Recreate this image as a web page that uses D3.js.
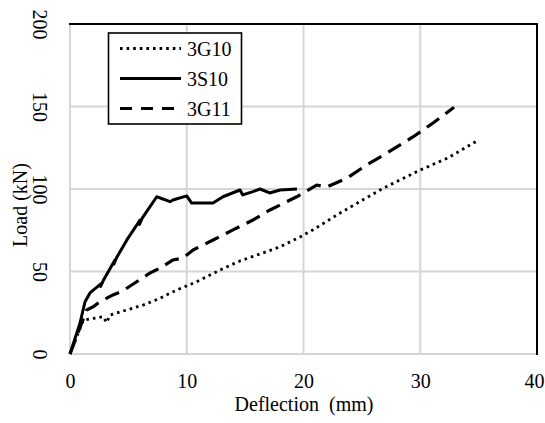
<!DOCTYPE html>
<html>
<head>
<meta charset="utf-8">
<script src="https://cdn.jsdelivr.net/npm/d3@7"></script>
<style>
  html, body { margin: 0; padding: 0; background: #fff; }
  svg { display: block; }
  text { font-family: "Liberation Serif", "Times New Roman", serif; fill: #000; }
</style>
</head>
<body>
<div id="chart"></div>
<script>
// ---- data (deflection in mm, load in kN) ----
const seriesNames = ["3G10", "3S10", "3G11"];
const xTicks = [0, 10, 20, 30, 40];
const yTicks = [0, 50, 100, 150, 200];

const g10Defl = [0, 1.14, 2.0, 2.85, 3.14, 3.43, 4.86, 6.28, 7.71, 9.14, 10.85, 12.85, 14.56, 16.27, 18.0, 19.7, 20.8, 23.1, 26.8, 30.0, 32.3, 35.0];
const g10Load = [0, 20.6, 21.6, 22.6, 19.0, 23.6, 26.7, 29.7, 33.8, 38.8, 43.8, 50.9, 56.4, 60.6, 65.0, 70.9, 75.2, 85.3, 100.4, 111.5, 118.6, 129.7];

const s10Defl = [0, 0.86, 1.28, 1.71, 2.72, 2.62, 2.85, 3.85, 3.75, 4.0, 4.86, 6.0, 5.95, 6.2, 7.43, 8.57, 8.82, 10.0, 10.42, 12.25, 13.1, 14.56, 14.8, 15.67, 16.27, 17.1, 18.0, 19.44];
const s10Load = [0, 18.8, 31.5, 37.0, 43.0, 41.0, 44.5, 57.0, 54.5, 58.5, 69.0, 81.2, 78.5, 82.5, 95.3, 92.3, 93.3, 95.8, 91.5, 91.5, 95.3, 99.4, 96.4, 98.4, 100.0, 97.6, 99.4, 100.0];

const g11Defl = [0, 1.43, 2.0, 2.57, 3.68, 4.43, 5.71, 6.85, 7.71, 8.82, 9.68, 10.54, 12.25, 13.96, 15.67, 17.13, 19.42, 21.13, 22.0, 23.7, 25.4, 27.1, 29.4, 31.1, 32.9];
const g11Load = [0, 26.7, 28.7, 31.7, 35.8, 37.8, 43.8, 49.1, 52.1, 57.0, 58.2, 63.0, 69.1, 75.2, 81.2, 87.3, 95.3, 102.4, 101.2, 106.5, 114.5, 121.6, 131.7, 140.0, 149.5];

const xTitle = "Deflection  (mm)";
const yTitle = "Load (kN)";

// ---- layout ----
const W = 545, H = 423;
const FONT = '"Liberation Serif", "Times New Roman", serif';
const svg = d3.select("#chart").append("svg").attr("width", W).attr("height", H)
  .attr("font-family", FONT);

const x = d3.scaleLinear().domain([0, 40]).range([70, 537]);
const y = d3.scaleLinear().domain([0, 200]).range([354, 24]);

const gridColor = "#d6d6d6";

// gridlines
svg.append("g").selectAll("line").data(xTicks).join("line")
  .attr("x1", d => x(d)).attr("x2", d => x(d))
  .attr("y1", y(0)).attr("y2", y(200))
  .attr("stroke", gridColor).attr("stroke-width", 2);
svg.append("g").selectAll("line").data(yTicks).join("line")
  .attr("x1", x(0)).attr("x2", x(40))
  .attr("y1", d => y(d)).attr("y2", d => y(d))
  .attr("stroke", gridColor).attr("stroke-width", 2);

// frame: black top & right
svg.append("line").attr("x1", x(0) - 1).attr("x2", x(40) + 1).attr("y1", y(200)).attr("y2", y(200))
  .attr("stroke", "#000").attr("stroke-width", 2);
svg.append("line").attr("x1", x(40)).attr("x2", x(40)).attr("y1", y(200)).attr("y2", y(0) + 1)
  .attr("stroke", "#000").attr("stroke-width", 2);

// x axis labels
const xAxis = d3.axisBottom(x).tickValues(xTicks).tickSize(0).tickPadding(0).tickFormat(d3.format("d"));
const gx = svg.append("g").attr("transform", `translate(0, 374)`).call(xAxis)
  .attr("font-family", FONT).attr("font-size", 20);
gx.select(".domain").remove();
gx.selectAll("text").attr("dy", "0.71em").attr("y", 0)
  .style("font-family", FONT).style("font-size", "20px").attr("fill", "#000");
// keep the last label inside the canvas (it sits at the right edge)
gx.selectAll(".tick").filter(d => d === 40).select("text")
  .attr("text-anchor", "end").attr("x", W - 1 - x(40));

// y axis labels (rotated 90deg)
const yAxis = d3.axisLeft(y).tickValues(yTicks).tickSize(0).tickFormat(d3.format("d"));
const gy = svg.append("g").call(yAxis).attr("font-family", FONT).attr("font-size", 20);
gy.select(".domain").remove();
gy.selectAll(".tick text")
  .attr("x", null).attr("dy", null)
  .attr("text-anchor", "middle")
  .attr("dominant-baseline", "central")
  .attr("transform", "translate(40,0) rotate(90)")
  .style("font-family", FONT).style("font-size", "20px").attr("fill", "#000");

// axis titles
svg.append("text").attr("x", 304).attr("y", 411).attr("text-anchor", "middle")
  .style("font-size", "20px").style("white-space", "pre").text(xTitle);
svg.append("text").attr("transform", "translate(20,205) rotate(-90)")
  .attr("text-anchor", "middle").attr("dominant-baseline", "central")
  .style("font-size", "20px").text(yTitle);

// series
const styles = {
  "3G10": { dash: "2.6,4", width: 2.8 },
  "3S10": { dash: null, width: 3 },
  "3G11": { dash: "15,8", width: 3.2 }
};
const seriesData = [
  { name: "3G10", xs: g10Defl, ys: g10Load },
  { name: "3S10", xs: s10Defl, ys: s10Load },
  { name: "3G11", xs: g11Defl, ys: g11Load }
];
const line = d3.line().x(d => x(d[0])).y(d => y(d[1]));
seriesData.forEach(s => {
  const pts = s.xs.map((v, i) => [v, s.ys[i]]);
  const st = styles[s.name];
  svg.append("path").datum(pts)
    .attr("d", line)
    .attr("fill", "none").attr("stroke", "#000")
    .attr("stroke-width", st.width)
    .attr("stroke-linejoin", "round")
    .attr("stroke-dasharray", st.dash);
});

// legend
const lg = svg.append("g");
lg.append("rect").attr("x", 108.5).attr("y", 33).attr("width", 133).attr("height", 91)
  .attr("fill", "#fff").attr("stroke", "#000").attr("stroke-width", 1.6);
const legY = [48.5, 78.5, 108.5];
seriesNames.forEach((n, i) => {
  const st = styles[n];
  lg.append("line").attr("x1", 120).attr("x2", 181).attr("y1", legY[i]).attr("y2", legY[i])
    .attr("stroke", "#000").attr("stroke-width", st.width)
    .attr("stroke-dasharray", n === "3G11" ? "12,9" : st.dash);
  lg.append("text").attr("x", 187).attr("y", legY[i]).attr("dominant-baseline", "central")
    .style("font-size", "20px").text(n);
});
</script>
</body>
</html>
